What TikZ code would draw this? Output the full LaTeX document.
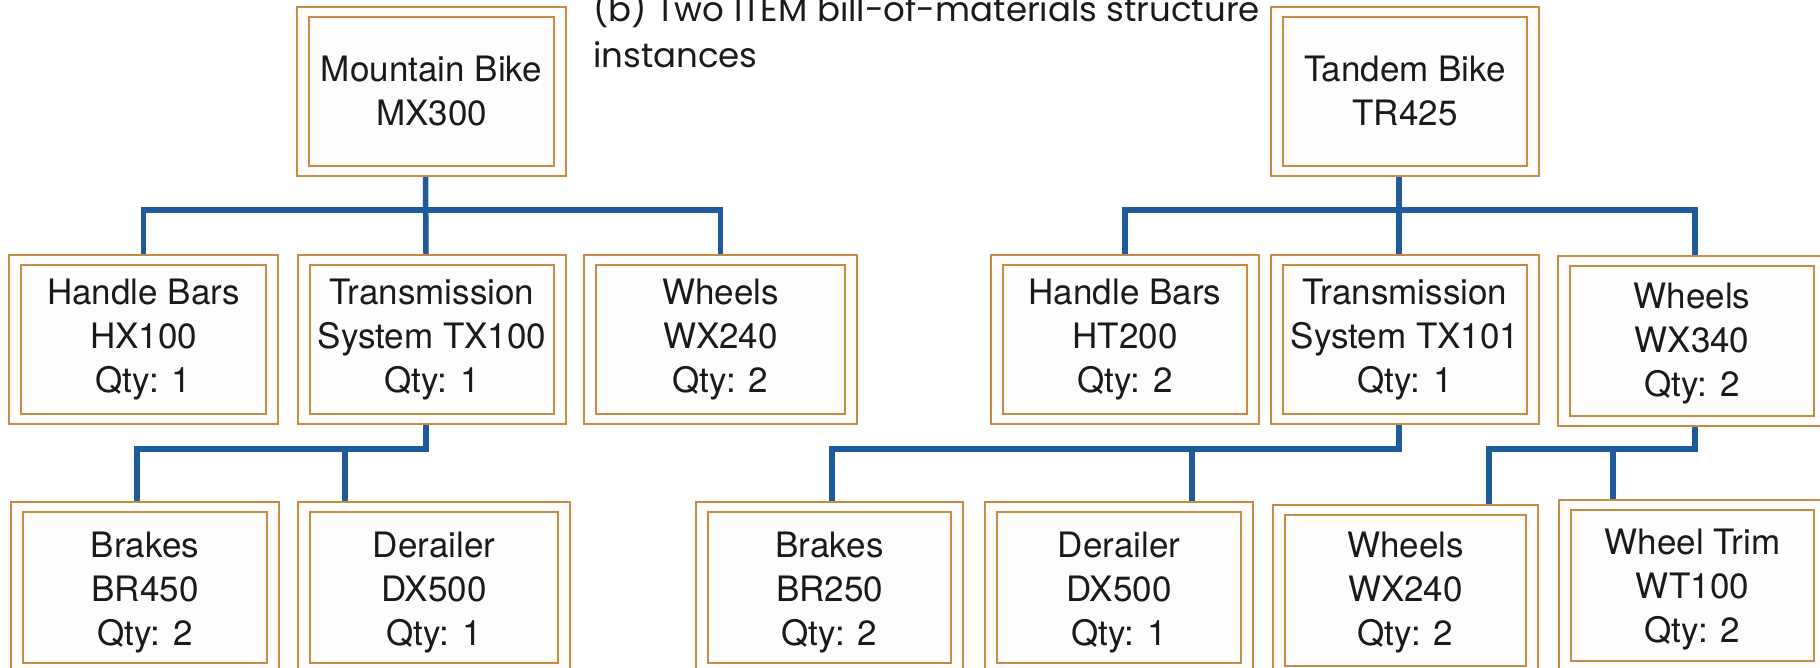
\documentclass[tikz,border=0pt]{standalone}
\usepackage{fontspec}
\setmainfont{TeX Gyre Heros}
\newfontfamily\titlefont{Poppins}
\definecolor{bomorange}{HTML}{C98A45}
\definecolor{bomblue}{HTML}{1F5B9C}
\definecolor{bomfill}{HTML}{FEFDFB}
\definecolor{bomtext}{HTML}{1A1A1A}
\tikzset{
  bom/.style={draw=bomorange, fill=bomfill, line width=2.2pt, inner sep=0pt,
    align=center, text=bomtext, font=\fontsize{35}{44}\selectfont},
  bomline/.style={draw=bomorange, line width=2.2pt},
  conn/.style={draw=bomblue, line width=5.5pt},
  titletext/.style={inner sep=0pt, text=bomtext, font=\titlefont\fontsize{34}{44}\selectfont}
}
% invisible struts that lower a box's text a little
\newcommand\lowby[1]{\rule{0pt}{#1}}
\newcommand\widespaces{\spaceskip=0.28em\relax}
\newcommand\bomnode[6]{%
  \node[bom, minimum width={#4-#2}, minimum height={#5-#3}] (#1) at ({(#2+#4)/2},{(#3+#5)/2}) {#6};
  \draw[bomline] ([xshift=13pt,yshift=-11pt]#1.north west) rectangle ([xshift=-13pt,yshift=11pt]#1.south east);
}
\begin{document}
\begin{tikzpicture}[x=1pt,y=-1pt]
\useasboundingbox (0,0) rectangle (1820,668);
\fill[white] (0,0) rectangle (1820,668);
\clip (0,0) rectangle (1820,668);

% title
\node[titletext, anchor=base west] (t1) at (593,22) {\widespaces (b) Two ITEM bill-of-materials structure};
\node[titletext, anchor=base west] (t2) at (593,68) {instances};

% row 1
\bomnode{mb}{297}{7}{566}{176}{Mountain Bike\\MX300}
\bomnode{tb}{1271}{7}{1539}{176}{Tandem Bike\\TR425}

% row 2
\bomnode{hx}{9}{255}{278}{424}{Handle Bars\\HX100\\Qty: 1}
\bomnode{txa}{298}{255}{566}{424}{Transmission\\System TX100\\Qty: 1}
\bomnode{wxa}{584}{255}{857}{424}{Wheels\\WX240\\Qty: 2}
\bomnode{ht}{991}{255}{1259}{424}{Handle Bars\\HT200\\Qty: 2}
\bomnode{txb}{1271}{255}{1539}{424}{Transmission\\System TX101\\Qty: 1}
\bomnode{wxc}{1558}{256}{1826}{426}{\lowby{31pt}Wheels\\WX340\\Qty: 2}

% row 3
\bomnode{bra}{11}{502}{279}{673}{\lowby{35pt}Brakes\\BR450\\Qty: 2}
\bomnode{dxa}{298}{502}{570}{673}{\lowby{35pt}Derailer\\DX500\\Qty: 1}
\bomnode{brb}{696}{502}{963}{673}{\lowby{35pt}Brakes\\BR250\\Qty: 2}
\bomnode{dxb}{985}{502}{1253}{673}{\lowby{35pt}Derailer\\DX500\\Qty: 1}
\bomnode{wxb}{1273}{505}{1538}{676}{\lowby{29pt}Wheels\\WX240\\Qty: 2}
\bomnode{wt}{1559}{500}{1826}{671}{\lowby{33pt}Wheel Trim\\WT100\\Qty: 2}

% bus levels
\coordinate (busA) at (0,210);
\coordinate (busB) at (0,449);

% drop points
\coordinate (pmb) at ([xshift=-6pt]mb.south);
\coordinate (ptxa) at ([xshift=-6pt]txa.north);
\coordinate (ptxas) at ([xshift=-6pt]txa.south);
\coordinate (ptb) at ([xshift=-6pt]tb.south);
\coordinate (ptxb) at ([xshift=-6pt]txb.north);
\coordinate (ptxbs) at ([xshift=-6pt]txb.south);
\coordinate (pwxc) at ([xshift=3pt]wxc.north);
\coordinate (pwxcs) at ([xshift=3pt]wxc.south);
\coordinate (pbra) at ([xshift=127pt]bra.north west);
\coordinate (pdxa) at ([xshift=48pt]dxa.north west);
\coordinate (pbrb) at ([xshift=137pt]brb.north west);
\coordinate (pdxb) at ([xshift=208pt]dxb.north west);
\coordinate (pwxb) at ([xshift=217pt]wxb.north west);
\coordinate (pwt) at ([xshift=55pt]wt.north west);

% connectors: Mountain Bike
\draw[conn] (pmb) -- (ptxa);
\draw[conn] (hx.north) -- (hx.north |- busA) -- (wxa.north |- busA) -- (wxa.north);
\draw[conn] (ptxas) -- (ptxas |- busB) -- (pbra |- busB) -- (pbra);
\draw[conn] (pdxa |- busB) -- (pdxa);

% connectors: Tandem Bike
\draw[conn] (ptb) -- (ptxb);
\draw[conn] (ht.north) -- (ht.north |- busA) -- (pwxc |- busA) -- (pwxc);
\draw[conn] (ptxbs) -- (ptxbs |- busB) -- (pbrb |- busB) -- (pbrb);
\draw[conn] (pdxb |- busB) -- (pdxb);
\draw[conn] (pwxcs) -- (pwxcs |- busB) -- (pwxb |- busB) -- (pwxb);
\draw[conn] (pwt |- busB) -- (pwt);
\end{tikzpicture}
\end{document}
